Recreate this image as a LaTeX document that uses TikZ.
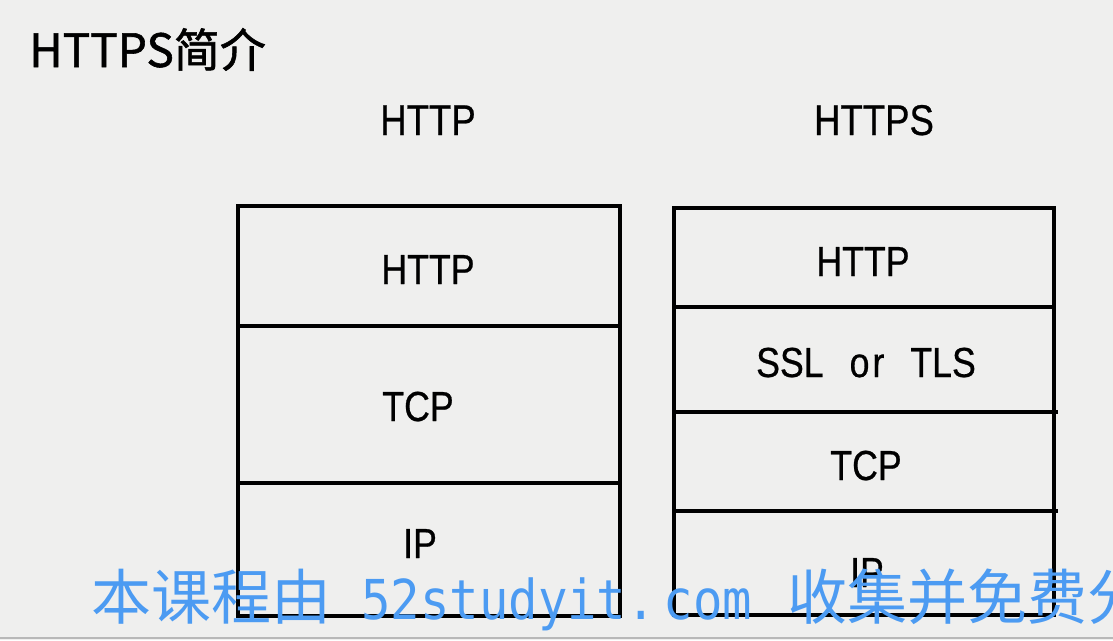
\documentclass[tikz,border=0pt]{standalone}
\usepackage{fontspec}
\setmainfont{Liberation Sans}
\newfontfamily\cjk{Noto Sans CJK SC}
\newfontfamily\cjkbold[FakeBold=1.2]{Noto Sans CJK SC}
\newfontfamily\labfont[FakeStretch=0.85,FakeBold=0.6]{Liberation Sans}
\newfontfamily\wmfont[FakeStretch=0.89]{DejaVu Sans Mono}
\definecolor{bg}{HTML}{EFEFEE}
\definecolor{wmblue}{HTML}{4C9BF2}
\begin{document}
\begin{tikzpicture}[x=1pt,y=-1pt,
  layer/.style={draw=black, line width=3.2pt, outer sep=0pt, inner sep=0pt, anchor=north west},
  lab/.style={anchor=base, inner sep=0pt, font=\labfont\fontsize{42}{42}\selectfont},
  head/.style={anchor=base, inner sep=0pt, font=\labfont\fontsize{43}{43}\selectfont},
  title/.style={anchor=base west, inner sep=0pt, font=\cjkbold\fontsize{46}{46}\selectfont},
  wm/.style={anchor=base west, inner sep=0pt, text=wmblue, font=\cjk\fontsize{60}{60}\selectfont}]
\clip (0,0) rectangle (1113,640);
\fill[bg] (0,0) rectangle (1113,640);
\draw[line width=1.5pt, black!28] (0,637.8) -- (1113,637.8);
% title
\node[title] (title) at (29,67) {HTTPS简介};
% column headings
\node[head] (hL) at (428,135) {HTTP};
\node[head] (hR) at (874,135) {HTTPS};
% HTTP stack
\node[layer, minimum width=382pt, minimum height=120pt] (lhttp) at (238,206) {};
\node[layer, minimum width=382pt, minimum height=157pt] (ltcp) at (238,326) {};
\node[layer, minimum width=382pt, minimum height=133pt] (lip) at (238,483) {};
\node[lab] (lhttpT) at (428,284) {HTTP};
\node[lab] (ltcpT) at (418,421) {TCP};
\node[lab] (lipT) at (420,558) {IP};
% HTTPS stack
\node[layer, minimum width=380pt, minimum height=99pt] (rhttp) at (674,208) {};
\node[layer, minimum width=380pt, minimum height=105pt] (rssl) at (674,307) {};
\node[layer, minimum width=380pt, minimum height=99pt] (rtcp) at (674,412) {};
\node[layer, minimum width=380pt, minimum height=104pt] (rip) at (674,511) {};
\draw[line width=3.6pt] (rssl.south east) -- ++(4,0);
\draw[line width=3.6pt] (rtcp.south east) -- ++(4,0);
\node[lab] (rhttpT) at (863,276) {HTTP};
\node[lab] (rsslT) at (866,377) {\spaceskip=26pt SSL o\hspace{3pt}r TLS};
\node[lab] (rtcpT) at (866,480) {TCP};
\node[lab] (ripT) at (867,587) {IP};
% watermark
\node[wm] (wm) at (91,619) {本课程由\hspace{30pt}{\wmfont\fontsize{55}{55}\selectfont 52studyit.\hspace{8pt}com}\hspace{35pt}收集并免费分};
\end{tikzpicture}
\end{document}
